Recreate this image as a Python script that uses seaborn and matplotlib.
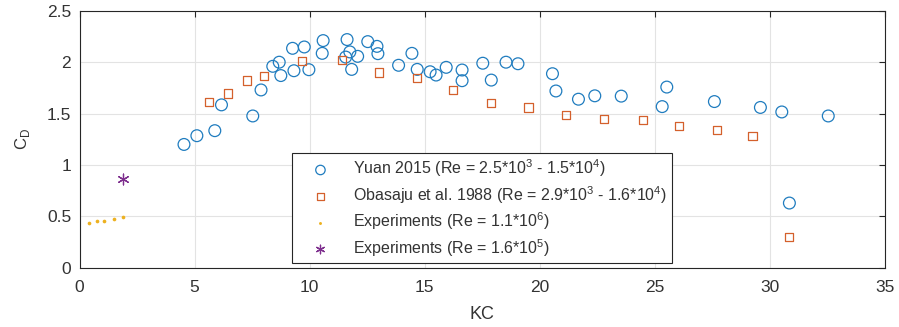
import matplotlib
matplotlib.use("Agg")
import matplotlib.pyplot as plt
import seaborn as sns

# Drag coefficient versus Keulegan-Carpenter number
yuan_kc = [4.54, 5.10, 5.88, 6.17, 7.53, 7.89, 8.40, 8.68, 8.75, 9.26, 9.32, 9.77,
           9.97, 10.59, 10.55, 11.63, 11.75, 11.57, 11.83, 12.09, 12.53, 12.93, 12.97,
           13.87, 14.45, 14.68, 15.24, 15.50, 15.94, 16.63, 16.63, 17.53, 17.90, 18.54,
           19.06, 20.56, 20.71, 21.69, 22.40, 23.55, 25.33, 25.53, 27.60, 29.60, 30.53,
           32.55, 30.86]
yuan_cd = [1.20, 1.285, 1.334, 1.585, 1.477, 1.73, 1.96, 2.00, 1.87, 2.135, 1.917, 2.148,
           1.927, 2.21, 2.086, 2.22, 2.10, 2.05, 1.93, 2.057, 2.20, 2.154, 2.083,
           1.97, 2.086, 1.93, 1.907, 1.875, 1.95, 1.924, 1.82, 1.99, 1.826, 2.00,
           1.985, 1.888, 1.72, 1.64, 1.673, 1.67, 1.568, 1.758, 1.617, 1.56, 1.516,
           1.477, 0.63]

obasaju_kc = [5.62, 6.45, 7.28, 8.03, 9.67, 11.40, 13.02, 14.66, 16.24, 17.89, 19.52,
              21.14, 22.81, 24.50, 26.05, 27.71, 29.25, 30.85]
obasaju_cd = [1.614, 1.695, 1.822, 1.865, 2.01, 2.024, 1.90, 1.845, 1.728, 1.60, 1.559,
              1.484, 1.445, 1.438, 1.38, 1.338, 1.285, 0.30]

exp_high_kc = [0.42, 0.75, 1.08, 1.49, 1.89]
exp_high_cd = [0.44, 0.452, 0.459, 0.478, 0.494]

exp_low_kc = [1.89]
exp_low_cd = [0.865]

labels = [
    r"Yuan 2015 (Re = 2.5*10$^{\mathregular{3}}$ - 1.5*10$^{\mathregular{4}}$)",
    r"Obasaju et al. 1988 (Re = 2.9*10$^{\mathregular{3}}$ - 1.6*10$^{\mathregular{4}}$)",
    r"Experiments (Re = 1.1*10$^{\mathregular{6}}$)",
    r"Experiments (Re = 1.6*10$^{\mathregular{5}}$)",
]

x_ticks = [0, 5, 10, 15, 20, 25, 30, 35]
y_ticks = [0, 0.5, 1, 1.5, 2, 2.5]
y_tick_labels = ["0", "0.5", "1", "1.5", "2", "2.5"]

sns.set_style("white")
plt.rcParams["font.family"] = ["Liberation Sans", "DejaVu Sans"]
plt.rcParams["mathtext.fontset"] = "custom"
plt.rcParams["mathtext.rm"] = "Liberation Sans"

fig = plt.figure(figsize=(8.99, 3.27), dpi=100)
ax = fig.add_axes([0.0885, 0.181, 0.8955, 0.786])

blue, orange, yellow, purple = "#1f7cbf", "#d4602c", "#EDB120", "#7E2F8E"
text_color = "#333333"

sns.scatterplot(x=yuan_kc, y=yuan_cd, ax=ax, marker="o", s=72,
                facecolor="none", edgecolor=blue, linewidth=0.9, label=labels[0])
sns.scatterplot(x=obasaju_kc, y=obasaju_cd, ax=ax, marker="s", s=36,
                facecolor="none", edgecolor=orange, linewidth=0.9, label=labels[1])
sns.scatterplot(x=exp_high_kc, y=exp_high_cd, ax=ax, marker="o", s=7,
                color=yellow, edgecolor=yellow, linewidth=0, label=labels[2])
sns.scatterplot(x=exp_low_kc, y=exp_low_cd, ax=ax, marker=(6, 2, 0), s=60,
                color=purple, linewidth=0.9, label=labels[3])

ax.set_xlim(0, 35)
ax.set_ylim(0, 2.5)
ax.set_xticks(x_ticks)
ax.set_yticks(y_ticks)
ax.set_xticklabels([str(t) for t in x_ticks])
ax.set_yticklabels(y_tick_labels)
ax.grid(True, color="#e3e3e3", linewidth=0.8)
ax.set_axisbelow(True)
for sp in ax.spines.values():
    sp.set_visible(True)
    sp.set_color("#262626")
    sp.set_linewidth(0.8)
ax.tick_params(direction="in", length=4, width=0.8, top=True, right=True,
               labelsize=12.5, colors="#262626", labelcolor=text_color)
ax.tick_params(axis="x", pad=9)
ax.tick_params(axis="y", pad=6)
ax.set_xlabel("KC", fontsize=13, color=text_color, labelpad=8)
ax.set_ylabel(r"C$_{\mathregular{D}}$", fontsize=12, color=text_color, labelpad=11)

leg = ax.legend(loc="lower left", bbox_to_anchor=(0.2635, 0.017), borderaxespad=0,
                frameon=True, fancybox=False, framealpha=1, edgecolor="#262626",
                fontsize=11.5, handletextpad=0.55, borderpad=0.3, labelspacing=0.3,
                handlelength=3.0, markerscale=0.8, labelcolor=text_color)
leg.get_frame().set_linewidth(0.8)

fig.savefig("out.png", dpi=100)
